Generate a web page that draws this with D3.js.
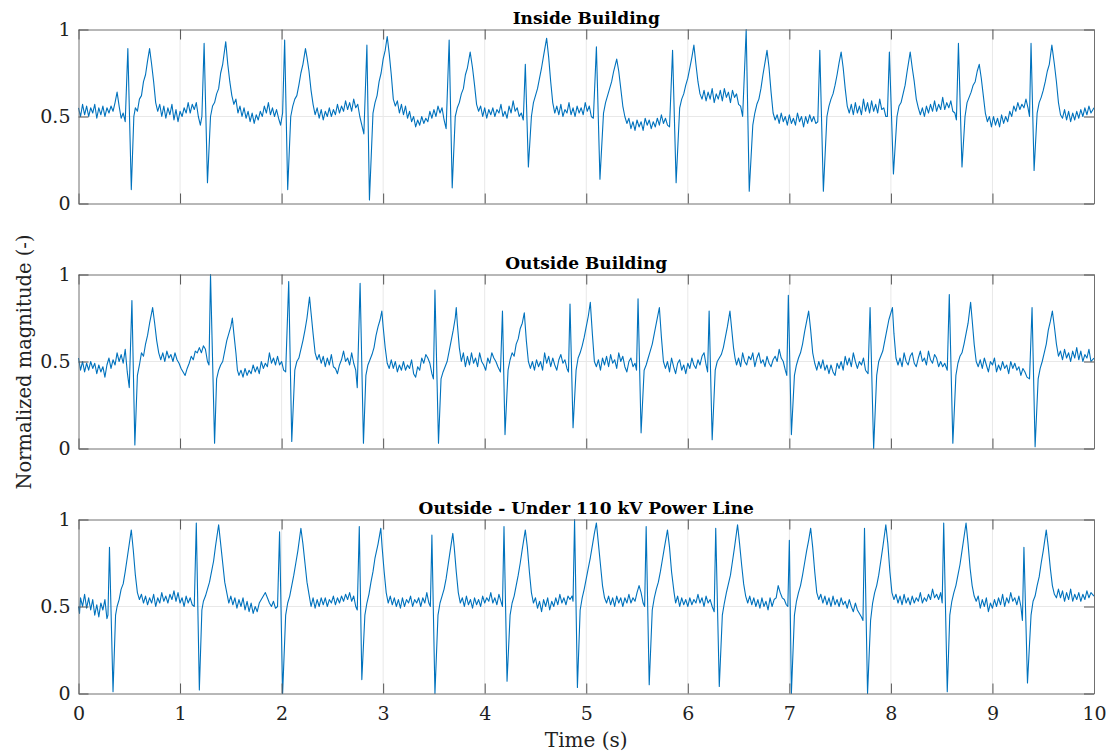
<!DOCTYPE html>
<html>
<head>
<meta charset="utf-8">
<script src="https://cdn.jsdelivr.net/npm/d3@7"></script>
<style>
  body { margin: 0; background: #fff; }
  text { font-family: "DejaVu Serif", serif; }
</style>
</head>
<body>
<svg id="chart" width="1110" height="753"></svg>
<script>
// Panel titles and ticks
const titles = ["Inside Building", "Outside Building", "Outside - Under 110 kV Power Line"];
const timeTicks = [0, 1, 2, 3, 4, 5, 6, 7, 8, 9, 10];
const magTicks = [0, 0.5, 1];

// Signals: [time (s), normalized magnitude]
const inside = [
  [0.00,0.55],[0.02,0.50],[0.04,0.57],[0.06,0.51],[0.08,0.56],[0.10,0.50],[0.12,0.55],[0.14,0.52],[0.16,0.57],[0.18,0.49],[0.20,0.55],[0.22,0.51],[0.24,0.56],[0.26,0.50],[0.28,0.55],[0.30,0.52],[0.32,0.56],[0.34,0.53],[0.36,0.58],[0.38,0.64],[0.40,0.56],[0.42,0.49],[0.44,0.52],[0.46,0.47],
  [0.486,0.89],[0.52,0.08],[0.545,0.50],[0.56,0.55],[0.58,0.53],[0.60,0.60],[0.62,0.62],[0.64,0.70],[0.66,0.74],[0.68,0.82],[0.70,0.89],[0.72,0.80],[0.74,0.70],[0.76,0.58],[0.78,0.53],[0.80,0.57],[0.82,0.50],[0.84,0.56],[0.86,0.49],[0.88,0.55],[0.90,0.51],[0.92,0.57],[0.94,0.48],[0.96,0.54],[0.98,0.47],[1.00,0.53],[1.02,0.50],[1.04,0.55],[1.06,0.52],[1.08,0.58],[1.10,0.52],[1.12,0.57],[1.14,0.54],[1.16,0.58],[1.18,0.50],[1.20,0.45],[1.215,0.50],
  [1.237,0.92],[1.27,0.12],[1.30,0.50],[1.32,0.56],[1.34,0.58],[1.36,0.63],[1.38,0.66],[1.40,0.75],[1.42,0.80],[1.45,0.93],[1.47,0.80],[1.49,0.70],[1.51,0.62],[1.53,0.57],[1.55,0.60],[1.57,0.52],[1.59,0.56],[1.61,0.50],[1.63,0.55],[1.65,0.49],[1.67,0.53],[1.69,0.47],[1.71,0.52],[1.73,0.46],[1.75,0.51],[1.77,0.48],[1.79,0.53],[1.81,0.50],[1.83,0.56],[1.85,0.52],[1.87,0.58],[1.89,0.51],[1.91,0.55],[1.93,0.50],[1.95,0.54],[1.97,0.49],[1.99,0.45],[2.01,0.52],
  [2.03,0.94],[2.06,0.08],[2.09,0.50],[2.11,0.56],[2.13,0.60],[2.15,0.62],[2.17,0.68],[2.19,0.75],[2.21,0.80],[2.235,0.89],[2.25,0.84],[2.27,0.76],[2.29,0.65],[2.31,0.57],[2.33,0.51],[2.35,0.55],[2.37,0.49],[2.39,0.54],[2.41,0.48],[2.43,0.53],[2.45,0.50],[2.47,0.55],[2.49,0.50],[2.51,0.54],[2.53,0.51],[2.55,0.57],[2.57,0.52],[2.59,0.56],[2.61,0.53],[2.63,0.59],[2.65,0.54],[2.67,0.58],[2.69,0.53],[2.71,0.60],[2.73,0.55],[2.75,0.57],[2.77,0.50],[2.79,0.45],[2.81,0.40],
  [2.84,0.91],[2.865,0.02],[2.90,0.52],[2.92,0.58],[2.94,0.62],[2.96,0.70],[2.98,0.75],[3.00,0.83],[3.02,0.88],[3.04,0.96],[3.06,0.86],[3.08,0.74],[3.10,0.60],[3.12,0.56],[3.14,0.59],[3.16,0.52],[3.18,0.57],[3.20,0.51],[3.22,0.56],[3.24,0.49],[3.26,0.53],[3.28,0.47],[3.30,0.50],[3.32,0.44],[3.34,0.48],[3.36,0.45],[3.38,0.50],[3.40,0.46],[3.42,0.49],[3.44,0.47],[3.46,0.53],[3.48,0.49],[3.50,0.54],[3.52,0.50],[3.54,0.56],[3.56,0.52],[3.58,0.55],[3.60,0.48],[3.62,0.43],
  [3.65,0.94],[3.68,0.09],[3.71,0.50],[3.73,0.55],[3.75,0.58],[3.77,0.63],[3.79,0.66],[3.81,0.74],[3.83,0.78],[3.857,0.87],[3.88,0.78],[3.90,0.68],[3.92,0.57],[3.94,0.53],[3.96,0.56],[3.98,0.50],[4.00,0.55],[4.02,0.49],[4.04,0.54],[4.06,0.51],[4.08,0.55],[4.10,0.50],[4.12,0.54],[4.14,0.52],[4.16,0.57],[4.18,0.50],[4.20,0.53],[4.22,0.49],[4.24,0.56],[4.26,0.52],[4.28,0.59],[4.30,0.53],[4.32,0.55],[4.34,0.50],[4.36,0.52],[4.38,0.48],
  [4.40,0.80],[4.43,0.21],[4.46,0.50],[4.48,0.58],[4.50,0.62],[4.52,0.66],[4.54,0.72],[4.56,0.78],[4.58,0.85],[4.61,0.95],[4.63,0.84],[4.65,0.70],[4.67,0.58],[4.69,0.52],[4.71,0.56],[4.73,0.51],[4.75,0.57],[4.77,0.50],[4.79,0.54],[4.81,0.52],[4.83,0.58],[4.85,0.51],[4.87,0.55],[4.89,0.50],[4.91,0.56],[4.93,0.52],[4.95,0.55],[4.97,0.51],[4.99,0.58],[5.01,0.53],[5.03,0.56],[5.05,0.50],[5.07,0.49],
  [5.10,0.90],[5.135,0.14],[5.17,0.52],[5.19,0.58],[5.21,0.62],[5.23,0.66],[5.25,0.70],[5.27,0.76],[5.30,0.83],[5.32,0.76],[5.34,0.66],[5.36,0.56],[5.38,0.50],[5.40,0.46],[5.42,0.49],[5.44,0.43],[5.46,0.47],[5.48,0.42],[5.50,0.48],[5.52,0.44],[5.54,0.47],[5.56,0.42],[5.58,0.49],[5.60,0.45],[5.62,0.48],[5.64,0.43],[5.66,0.47],[5.68,0.44],[5.70,0.49],[5.72,0.45],[5.74,0.51],[5.76,0.46],[5.78,0.49],[5.80,0.45],[5.82,0.44],
  [5.85,0.88],[5.885,0.12],[5.92,0.55],[5.94,0.60],[5.96,0.63],[5.98,0.68],[6.00,0.72],[6.02,0.78],[6.04,0.84],[6.06,0.91],[6.08,0.80],[6.10,0.70],[6.12,0.63],[6.14,0.60],[6.16,0.65],[6.18,0.59],[6.20,0.64],[6.22,0.60],[6.24,0.66],[6.26,0.58],[6.28,0.63],[6.30,0.60],[6.32,0.65],[6.34,0.59],[6.36,0.66],[6.38,0.61],[6.40,0.64],[6.42,0.58],[6.44,0.65],[6.46,0.61],[6.48,0.63],[6.50,0.57],[6.52,0.56],[6.54,0.50],
  [6.575,1.00],[6.605,0.07],[6.64,0.45],[6.66,0.52],[6.68,0.57],[6.70,0.60],[6.72,0.66],[6.74,0.74],[6.76,0.81],[6.78,0.88],[6.80,0.78],[6.82,0.64],[6.84,0.52],[6.86,0.48],[6.88,0.51],[6.90,0.46],[6.92,0.52],[6.94,0.47],[6.96,0.50],[6.98,0.45],[7.00,0.51],[7.02,0.46],[7.04,0.49],[7.06,0.45],[7.08,0.52],[7.10,0.47],[7.12,0.50],[7.14,0.44],[7.16,0.50],[7.18,0.46],[7.20,0.51],[7.22,0.47],[7.24,0.50],[7.26,0.46],[7.28,0.47],
  [7.30,0.88],[7.335,0.07],[7.37,0.50],[7.39,0.56],[7.41,0.60],[7.43,0.63],[7.45,0.68],[7.47,0.74],[7.49,0.81],[7.51,0.87],[7.53,0.78],[7.55,0.66],[7.57,0.56],[7.59,0.52],[7.61,0.57],[7.63,0.51],[7.65,0.58],[7.67,0.52],[7.69,0.56],[7.71,0.51],[7.73,0.60],[7.75,0.53],[7.77,0.58],[7.79,0.52],[7.81,0.59],[7.83,0.53],[7.85,0.57],[7.87,0.52],[7.89,0.60],[7.91,0.54],[7.93,0.55],[7.95,0.50],[7.965,0.50],
  [7.985,0.87],[8.025,0.17],[8.06,0.50],[8.08,0.56],[8.10,0.58],[8.12,0.63],[8.14,0.68],[8.16,0.76],[8.19,0.87],[8.21,0.78],[8.23,0.70],[8.25,0.60],[8.27,0.55],[8.29,0.51],[8.31,0.55],[8.33,0.50],[8.35,0.56],[8.37,0.52],[8.39,0.57],[8.41,0.53],[8.43,0.59],[8.45,0.53],[8.47,0.57],[8.49,0.54],[8.51,0.61],[8.53,0.54],[8.55,0.58],[8.57,0.55],[8.59,0.59],[8.61,0.53],[8.63,0.52],[8.645,0.48],
  [8.665,0.92],[8.70,0.21],[8.73,0.50],[8.75,0.58],[8.77,0.61],[8.79,0.64],[8.81,0.68],[8.83,0.70],[8.85,0.76],[8.87,0.80],[8.89,0.72],[8.91,0.62],[8.93,0.52],[8.95,0.47],[8.97,0.50],[8.99,0.44],[9.01,0.50],[9.03,0.45],[9.05,0.49],[9.07,0.44],[9.09,0.51],[9.11,0.46],[9.13,0.50],[9.15,0.47],[9.17,0.53],[9.19,0.50],[9.21,0.56],[9.23,0.53],[9.25,0.58],[9.27,0.54],[9.29,0.57],[9.31,0.55],[9.33,0.60],[9.35,0.55],[9.365,0.50],
  [9.38,0.92],[9.41,0.19],[9.44,0.52],[9.46,0.58],[9.48,0.61],[9.50,0.65],[9.52,0.70],[9.54,0.76],[9.56,0.80],[9.585,0.91],[9.61,0.80],[9.63,0.70],[9.65,0.58],[9.67,0.51],[9.69,0.49],[9.71,0.54],[9.73,0.48],[9.75,0.53],[9.77,0.47],[9.79,0.52],[9.81,0.48],[9.83,0.53],[9.85,0.49],[9.87,0.54],[9.89,0.50],[9.91,0.55],[9.93,0.51],[9.95,0.56],[9.97,0.52],[10.0,0.55]
];

const outside = [
  [0.00,0.52],[0.02,0.45],[0.04,0.50],[0.06,0.44],[0.08,0.49],[0.10,0.45],[0.12,0.50],[0.14,0.46],[0.16,0.49],[0.18,0.43],[0.20,0.48],[0.22,0.44],[0.24,0.47],[0.26,0.41],[0.28,0.48],[0.30,0.52],[0.32,0.46],[0.34,0.51],[0.36,0.48],[0.38,0.55],[0.40,0.50],[0.42,0.54],[0.44,0.49],[0.46,0.57],[0.48,0.44],[0.50,0.35],
  [0.526,0.85],[0.555,0.02],[0.58,0.42],[0.60,0.48],[0.62,0.55],[0.64,0.53],[0.66,0.60],[0.68,0.65],[0.70,0.72],[0.72,0.78],[0.73,0.81],[0.75,0.72],[0.77,0.62],[0.79,0.55],[0.81,0.51],[0.83,0.55],[0.85,0.50],[0.87,0.56],[0.89,0.52],[0.91,0.54],[0.93,0.50],[0.95,0.55],[0.97,0.51],[0.99,0.49],[1.01,0.46],[1.03,0.44],[1.05,0.42],[1.07,0.46],[1.09,0.49],[1.11,0.53],[1.13,0.51],[1.15,0.56],[1.17,0.55],[1.19,0.58],[1.21,0.55],[1.23,0.59],[1.25,0.57],[1.27,0.50],[1.285,0.48],
  [1.30,1.00],[1.34,0.03],[1.36,0.40],[1.38,0.45],[1.40,0.48],[1.42,0.50],[1.44,0.56],[1.46,0.62],[1.48,0.66],[1.50,0.70],[1.515,0.75],[1.53,0.66],[1.55,0.55],[1.565,0.45],[1.58,0.42],[1.60,0.45],[1.62,0.41],[1.64,0.46],[1.66,0.42],[1.68,0.45],[1.70,0.43],[1.72,0.48],[1.74,0.44],[1.76,0.47],[1.78,0.43],[1.80,0.50],[1.82,0.46],[1.84,0.49],[1.86,0.47],[1.88,0.55],[1.90,0.49],[1.92,0.52],[1.94,0.48],[1.96,0.53],[1.98,0.48],[2.00,0.50],[2.02,0.45],[2.04,0.44],
  [2.07,0.96],[2.10,0.04],[2.13,0.45],[2.15,0.50],[2.17,0.52],[2.19,0.57],[2.21,0.62],[2.23,0.68],[2.25,0.75],[2.275,0.87],[2.29,0.78],[2.31,0.66],[2.33,0.55],[2.35,0.51],[2.37,0.54],[2.39,0.49],[2.41,0.53],[2.43,0.47],[2.45,0.52],[2.47,0.48],[2.49,0.54],[2.51,0.47],[2.53,0.46],[2.55,0.43],[2.57,0.48],[2.59,0.51],[2.61,0.56],[2.63,0.50],[2.65,0.52],[2.67,0.48],[2.69,0.55],[2.71,0.49],[2.73,0.45],[2.745,0.35],
  [2.773,0.95],[2.806,0.03],[2.83,0.42],[2.85,0.48],[2.87,0.51],[2.89,0.54],[2.91,0.58],[2.93,0.65],[2.95,0.70],[2.97,0.74],[2.987,0.79],[3.00,0.70],[3.02,0.58],[3.04,0.49],[3.06,0.46],[3.08,0.51],[3.10,0.46],[3.12,0.50],[3.14,0.44],[3.16,0.48],[3.18,0.45],[3.20,0.50],[3.22,0.45],[3.24,0.48],[3.26,0.46],[3.28,0.51],[3.30,0.43],[3.32,0.41],[3.34,0.47],[3.36,0.45],[3.38,0.52],[3.40,0.49],[3.42,0.54],[3.44,0.52],[3.46,0.49],[3.48,0.43],[3.495,0.40],
  [3.51,0.91],[3.545,0.03],[3.57,0.40],[3.59,0.44],[3.61,0.47],[3.63,0.50],[3.65,0.56],[3.67,0.62],[3.69,0.68],[3.71,0.75],[3.72,0.81],[3.73,0.72],[3.75,0.58],[3.77,0.50],[3.79,0.55],[3.81,0.47],[3.83,0.53],[3.85,0.48],[3.87,0.55],[3.89,0.49],[3.91,0.52],[3.93,0.47],[3.95,0.55],[3.97,0.50],[3.99,0.48],[4.01,0.45],[4.03,0.52],[4.05,0.49],[4.07,0.55],[4.09,0.52],[4.11,0.50],[4.13,0.47],[4.155,0.44],
  [4.175,0.79],[4.20,0.08],[4.23,0.45],[4.25,0.51],[4.27,0.55],[4.29,0.53],[4.31,0.60],[4.33,0.63],[4.35,0.69],[4.37,0.72],[4.39,0.78],[4.41,0.62],[4.43,0.50],[4.45,0.46],[4.47,0.50],[4.49,0.45],[4.51,0.51],[4.53,0.47],[4.55,0.50],[4.57,0.45],[4.59,0.55],[4.61,0.49],[4.63,0.53],[4.65,0.47],[4.67,0.52],[4.69,0.48],[4.71,0.45],[4.73,0.51],[4.75,0.54],[4.77,0.49],[4.79,0.51],[4.81,0.46],[4.825,0.44],
  [4.84,0.83],[4.87,0.12],[4.90,0.45],[4.92,0.52],[4.94,0.55],[4.96,0.59],[4.98,0.64],[5.00,0.70],[5.02,0.76],[5.04,0.84],[5.06,0.66],[5.08,0.50],[5.10,0.47],[5.12,0.51],[5.14,0.45],[5.16,0.52],[5.18,0.48],[5.20,0.53],[5.22,0.47],[5.24,0.54],[5.26,0.49],[5.28,0.51],[5.30,0.46],[5.32,0.55],[5.34,0.50],[5.36,0.53],[5.38,0.47],[5.40,0.44],[5.42,0.50],[5.44,0.52],[5.46,0.47],[5.48,0.49],[5.495,0.45],
  [5.51,0.86],[5.54,0.09],[5.57,0.45],[5.59,0.48],[5.61,0.52],[5.63,0.56],[5.65,0.60],[5.67,0.66],[5.69,0.72],[5.72,0.81],[5.74,0.64],[5.76,0.50],[5.78,0.46],[5.80,0.50],[5.82,0.44],[5.84,0.52],[5.86,0.47],[5.88,0.43],[5.90,0.49],[5.92,0.51],[5.94,0.45],[5.96,0.48],[5.98,0.43],[6.00,0.49],[6.02,0.46],[6.04,0.52],[6.06,0.48],[6.08,0.46],[6.10,0.51],[6.12,0.48],[6.14,0.53],[6.16,0.55],[6.18,0.48],[6.195,0.44],
  [6.21,0.79],[6.24,0.05],[6.27,0.45],[6.29,0.50],[6.31,0.52],[6.33,0.54],[6.35,0.58],[6.37,0.64],[6.39,0.70],[6.415,0.79],[6.43,0.70],[6.45,0.58],[6.465,0.52],[6.48,0.48],[6.50,0.52],[6.52,0.47],[6.54,0.55],[6.56,0.50],[6.58,0.48],[6.60,0.53],[6.62,0.51],[6.64,0.55],[6.66,0.47],[6.68,0.52],[6.70,0.55],[6.72,0.49],[6.74,0.51],[6.76,0.47],[6.78,0.53],[6.80,0.49],[6.82,0.47],[6.84,0.51],[6.86,0.53],[6.88,0.50],[6.90,0.57],[6.92,0.52],[6.94,0.50],[6.96,0.45],[6.975,0.42],
  [6.99,0.88],[7.02,0.08],[7.05,0.42],[7.07,0.48],[7.09,0.52],[7.11,0.55],[7.13,0.60],[7.15,0.67],[7.17,0.73],[7.19,0.79],[7.21,0.68],[7.23,0.55],[7.25,0.49],[7.27,0.45],[7.29,0.50],[7.31,0.46],[7.33,0.51],[7.35,0.45],[7.37,0.48],[7.39,0.43],[7.41,0.48],[7.43,0.44],[7.45,0.42],[7.47,0.49],[7.49,0.46],[7.51,0.50],[7.53,0.45],[7.55,0.53],[7.57,0.48],[7.59,0.52],[7.61,0.47],[7.63,0.55],[7.65,0.50],[7.67,0.46],[7.69,0.50],[7.71,0.48],[7.73,0.52],[7.75,0.45],[7.775,0.43],
  [7.795,0.81],[7.83,0.00],[7.86,0.42],[7.88,0.50],[7.90,0.53],[7.92,0.56],[7.94,0.62],[7.96,0.68],[7.98,0.74],[8.015,0.81],[8.03,0.66],[8.05,0.52],[8.07,0.48],[8.09,0.52],[8.11,0.47],[8.13,0.55],[8.15,0.50],[8.17,0.48],[8.19,0.53],[8.21,0.55],[8.23,0.49],[8.25,0.47],[8.27,0.52],[8.29,0.56],[8.31,0.50],[8.33,0.52],[8.35,0.48],[8.37,0.56],[8.39,0.51],[8.41,0.49],[8.43,0.54],[8.45,0.52],[8.47,0.47],[8.49,0.50],[8.51,0.47],[8.53,0.49],[8.555,0.45],
  [8.575,0.885],[8.61,0.03],[8.64,0.42],[8.66,0.49],[8.68,0.53],[8.70,0.55],[8.72,0.60],[8.74,0.66],[8.76,0.72],[8.785,0.84],[8.80,0.74],[8.82,0.60],[8.84,0.50],[8.86,0.47],[8.88,0.51],[8.90,0.46],[8.92,0.52],[8.94,0.48],[8.96,0.44],[8.98,0.50],[9.00,0.48],[9.02,0.52],[9.04,0.44],[9.06,0.48],[9.08,0.45],[9.10,0.50],[9.12,0.46],[9.14,0.48],[9.16,0.43],[9.18,0.50],[9.20,0.46],[9.22,0.49],[9.24,0.45],[9.26,0.47],[9.28,0.42],[9.30,0.46],[9.32,0.44],[9.34,0.41],[9.365,0.40],
  [9.39,0.81],[9.42,0.01],[9.45,0.40],[9.47,0.46],[9.49,0.50],[9.51,0.55],[9.53,0.60],[9.55,0.68],[9.57,0.73],[9.59,0.79],[9.61,0.70],[9.63,0.60],[9.65,0.53],[9.67,0.56],[9.69,0.51],[9.71,0.57],[9.73,0.52],[9.75,0.55],[9.77,0.50],[9.79,0.56],[9.81,0.52],[9.83,0.58],[9.85,0.51],[9.87,0.56],[9.89,0.50],[9.91,0.54],[9.93,0.52],[9.95,0.57],[9.97,0.50],[10.0,0.52]
];

const powerLine = [
  [0.00,0.50],[0.01,0.46],[0.02,0.55],[0.04,0.50],[0.06,0.57],[0.08,0.49],[0.10,0.55],[0.12,0.48],[0.14,0.54],[0.16,0.45],[0.18,0.51],[0.20,0.44],[0.22,0.52],[0.24,0.48],[0.26,0.54],[0.28,0.43],[0.29,0.45],
  [0.305,0.84],[0.34,0.01],[0.365,0.45],[0.38,0.50],[0.40,0.54],[0.42,0.60],[0.44,0.63],[0.46,0.70],[0.48,0.78],[0.50,0.86],[0.52,0.94],[0.54,0.82],[0.56,0.68],[0.58,0.58],[0.60,0.54],[0.62,0.57],[0.64,0.52],[0.66,0.56],[0.68,0.51],[0.70,0.55],[0.72,0.52],[0.74,0.57],[0.76,0.50],[0.78,0.55],[0.80,0.52],[0.82,0.58],[0.84,0.53],[0.86,0.56],[0.88,0.52],[0.90,0.57],[0.92,0.54],[0.94,0.59],[0.96,0.53],[0.98,0.58],[1.00,0.52],[1.02,0.55],[1.04,0.50],[1.06,0.56],[1.08,0.52],[1.10,0.55],[1.12,0.51],[1.14,0.50],
  [1.16,0.98],[1.19,0.02],[1.215,0.48],[1.23,0.53],[1.25,0.56],[1.27,0.60],[1.29,0.64],[1.31,0.70],[1.33,0.76],[1.35,0.85],[1.38,0.97],[1.40,0.86],[1.42,0.75],[1.44,0.64],[1.46,0.58],[1.48,0.52],[1.50,0.56],[1.52,0.51],[1.54,0.55],[1.56,0.49],[1.58,0.54],[1.60,0.50],[1.62,0.55],[1.64,0.48],[1.66,0.53],[1.68,0.47],[1.70,0.52],[1.72,0.46],[1.74,0.50],[1.76,0.47],[1.78,0.52],[1.80,0.54],[1.82,0.56],[1.84,0.58],[1.86,0.55],[1.88,0.52],[1.90,0.50],[1.92,0.53],[1.94,0.49],[1.96,0.50],
  [1.98,0.93],[2.01,0.00],[2.04,0.45],[2.06,0.52],[2.08,0.56],[2.10,0.62],[2.12,0.68],[2.14,0.75],[2.16,0.82],[2.19,0.95],[2.21,0.86],[2.23,0.75],[2.25,0.64],[2.27,0.57],[2.29,0.50],[2.31,0.55],[2.33,0.49],[2.35,0.54],[2.37,0.50],[2.39,0.55],[2.41,0.51],[2.43,0.55],[2.45,0.50],[2.47,0.54],[2.49,0.52],[2.51,0.56],[2.53,0.51],[2.55,0.55],[2.57,0.52],[2.59,0.56],[2.61,0.53],[2.63,0.57],[2.65,0.54],[2.67,0.58],[2.69,0.53],[2.71,0.56],[2.73,0.50],[2.745,0.48],
  [2.765,0.96],[2.79,0.08],[2.82,0.45],[2.84,0.52],[2.86,0.57],[2.88,0.64],[2.90,0.70],[2.92,0.78],[2.95,0.86],[2.977,0.95],[2.99,0.84],[3.01,0.70],[3.03,0.58],[3.05,0.52],[3.07,0.56],[3.09,0.51],[3.11,0.55],[3.13,0.50],[3.15,0.54],[3.17,0.49],[3.19,0.55],[3.21,0.50],[3.23,0.54],[3.25,0.52],[3.27,0.56],[3.29,0.50],[3.31,0.54],[3.33,0.52],[3.35,0.55],[3.37,0.50],[3.39,0.55],[3.41,0.52],[3.43,0.58],[3.45,0.52],[3.465,0.50],
  [3.48,0.91],[3.51,0.00],[3.54,0.45],[3.56,0.52],[3.58,0.56],[3.60,0.60],[3.62,0.66],[3.64,0.74],[3.66,0.82],[3.686,0.92],[3.70,0.84],[3.72,0.70],[3.74,0.58],[3.76,0.52],[3.78,0.55],[3.80,0.50],[3.82,0.56],[3.84,0.51],[3.86,0.54],[3.88,0.49],[3.90,0.55],[3.92,0.51],[3.94,0.54],[3.96,0.50],[3.98,0.56],[4.00,0.52],[4.02,0.55],[4.04,0.53],[4.06,0.58],[4.08,0.52],[4.10,0.55],[4.12,0.51],[4.14,0.57],[4.16,0.53],[4.175,0.50],
  [4.19,0.96],[4.22,0.07],[4.25,0.45],[4.27,0.52],[4.29,0.56],[4.31,0.62],[4.33,0.68],[4.35,0.75],[4.37,0.83],[4.40,0.94],[4.42,0.84],[4.44,0.70],[4.46,0.58],[4.48,0.52],[4.50,0.55],[4.52,0.49],[4.54,0.53],[4.56,0.47],[4.58,0.54],[4.60,0.50],[4.62,0.55],[4.64,0.48],[4.66,0.53],[4.68,0.50],[4.70,0.55],[4.72,0.51],[4.74,0.57],[4.76,0.52],[4.78,0.55],[4.80,0.51],[4.82,0.56],[4.84,0.54],[4.86,0.56],[4.87,0.53],
  [4.885,1.00],[4.913,0.035],[4.94,0.48],[4.96,0.55],[4.98,0.60],[5.00,0.66],[5.02,0.72],[5.04,0.78],[5.06,0.85],[5.08,0.92],[5.10,0.98],[5.12,0.86],[5.14,0.74],[5.16,0.62],[5.18,0.55],[5.20,0.52],[5.22,0.56],[5.24,0.51],[5.26,0.55],[5.28,0.50],[5.30,0.56],[5.32,0.52],[5.34,0.55],[5.36,0.50],[5.38,0.55],[5.40,0.52],[5.42,0.57],[5.44,0.52],[5.46,0.55],[5.48,0.53],[5.50,0.58],[5.52,0.62],[5.54,0.58],[5.56,0.52],[5.575,0.50],
  [5.59,0.96],[5.62,0.05],[5.65,0.48],[5.67,0.55],[5.69,0.60],[5.71,0.64],[5.73,0.70],[5.75,0.77],[5.77,0.84],[5.80,0.94],[5.82,0.84],[5.84,0.70],[5.865,0.58],[5.88,0.52],[5.90,0.56],[5.92,0.50],[5.94,0.55],[5.96,0.51],[5.98,0.54],[6.00,0.50],[6.02,0.55],[6.04,0.51],[6.06,0.54],[6.08,0.52],[6.10,0.57],[6.12,0.52],[6.14,0.55],[6.16,0.50],[6.18,0.56],[6.20,0.52],[6.22,0.54],[6.24,0.50],[6.26,0.47],
  [6.275,0.95],[6.31,0.04],[6.34,0.45],[6.36,0.52],[6.38,0.58],[6.40,0.63],[6.42,0.68],[6.44,0.76],[6.46,0.84],[6.49,0.97],[6.51,0.86],[6.53,0.74],[6.55,0.63],[6.57,0.56],[6.59,0.52],[6.61,0.56],[6.63,0.51],[6.65,0.55],[6.67,0.50],[6.69,0.54],[6.71,0.49],[6.73,0.55],[6.75,0.50],[6.77,0.53],[6.79,0.48],[6.81,0.55],[6.83,0.50],[6.85,0.54],[6.87,0.55],[6.89,0.62],[6.91,0.58],[6.93,0.55],[6.95,0.54],[6.97,0.51],[6.985,0.50],
  [7.00,0.88],[7.02,0.00],[7.05,0.45],[7.07,0.53],[7.09,0.58],[7.11,0.62],[7.13,0.68],[7.15,0.75],[7.17,0.82],[7.19,0.88],[7.21,0.95],[7.23,0.84],[7.25,0.70],[7.27,0.58],[7.29,0.54],[7.31,0.57],[7.33,0.52],[7.35,0.56],[7.37,0.51],[7.39,0.55],[7.41,0.50],[7.43,0.56],[7.45,0.51],[7.47,0.54],[7.49,0.50],[7.51,0.55],[7.53,0.51],[7.55,0.53],[7.57,0.49],[7.59,0.54],[7.61,0.50],[7.63,0.47],[7.65,0.52],[7.67,0.48],[7.69,0.46],[7.71,0.44],[7.725,0.42],
  [7.74,0.95],[7.77,0.00],[7.80,0.42],[7.82,0.52],[7.84,0.58],[7.86,0.62],[7.88,0.68],[7.90,0.76],[7.92,0.84],[7.95,0.97],[7.97,0.86],[7.99,0.70],[8.01,0.58],[8.03,0.54],[8.05,0.57],[8.07,0.52],[8.09,0.56],[8.11,0.51],[8.13,0.57],[8.15,0.52],[8.17,0.55],[8.19,0.51],[8.21,0.56],[8.23,0.52],[8.25,0.55],[8.27,0.53],[8.29,0.58],[8.31,0.52],[8.33,0.55],[8.35,0.53],[8.37,0.57],[8.39,0.54],[8.41,0.60],[8.43,0.55],[8.45,0.57],[8.47,0.54],[8.49,0.58],[8.505,0.52],
  [8.52,0.98],[8.555,0.01],[8.58,0.45],[8.60,0.53],[8.62,0.58],[8.64,0.62],[8.66,0.68],[8.68,0.74],[8.70,0.82],[8.74,0.98],[8.76,0.86],[8.78,0.72],[8.80,0.62],[8.82,0.56],[8.84,0.53],[8.86,0.56],[8.88,0.49],[8.90,0.54],[8.92,0.50],[8.94,0.55],[8.96,0.47],[8.98,0.52],[9.00,0.49],[9.02,0.54],[9.04,0.50],[9.06,0.55],[9.08,0.51],[9.10,0.57],[9.12,0.50],[9.14,0.55],[9.16,0.52],[9.18,0.58],[9.20,0.53],[9.22,0.55],[9.24,0.51],[9.26,0.56],[9.28,0.50],[9.295,0.42],
  [9.31,0.84],[9.345,0.06],[9.38,0.45],[9.40,0.53],[9.42,0.56],[9.44,0.62],[9.46,0.67],[9.48,0.75],[9.50,0.82],[9.53,0.94],[9.55,0.84],[9.57,0.72],[9.59,0.62],[9.61,0.57],[9.63,0.55],[9.65,0.60],[9.67,0.55],[9.69,0.59],[9.71,0.53],[9.73,0.58],[9.75,0.54],[9.77,0.60],[9.79,0.53],[9.81,0.57],[9.83,0.54],[9.85,0.58],[9.87,0.53],[9.89,0.57],[9.91,0.54],[9.93,0.59],[9.95,0.55],[9.97,0.58],[10.0,0.56]
];

const signals = [inside, outside, powerLine];

// Layout
const svg = d3.select("#chart");
const left = 78.5, right = 1094;
const panelTop = [29.5, 274.5, 519.5];
const panelH = 174;
const boxColor = "#707070";

const x = d3.scaleLinear().domain([0, 10]).range([left, right]);

signals.forEach((data, i) => {
    const top = panelTop[i], bottom = top + panelH;
    const y = d3.scaleLinear().domain([0, 1]).range([bottom, top]);
    const g = svg.append("g");

    // Grid
    g.selectAll(".vgrid").data(timeTicks.slice(1, -1)).join("line")
        .attr("x1", d => x(d)).attr("x2", d => x(d))
        .attr("y1", top).attr("y2", bottom)
        .attr("stroke", "#e8e8e8").attr("stroke-width", 1);
    g.append("line")
        .attr("x1", left).attr("x2", right)
        .attr("y1", y(0.5)).attr("y2", y(0.5))
        .attr("stroke", "#e8e8e8").attr("stroke-width", 1);

    // Signal
    g.append("path")
        .datum(data)
        .attr("d", d3.line().x(d => x(d[0])).y(d => y(d[1])))
        .attr("fill", "none")
        .attr("stroke", "#0072BD")
        .attr("stroke-width", 1.1)
        .attr("stroke-linejoin", "round");

    // Axes (ticks pointing inward, like MATLAB)
    const bottomAxis = d3.axisBottom(x).tickValues(timeTicks).tickSizeInner(-10).tickSizeOuter(0).tickPadding(13);
    if (i < 2) bottomAxis.tickFormat("");
    const gb = g.append("g").attr("transform", `translate(0,${bottom})`).call(bottomAxis);

    const gt = g.append("g").attr("transform", `translate(0,${top})`)
        .call(d3.axisTop(x).tickValues(timeTicks).tickSizeInner(-10).tickSizeOuter(0).tickFormat(""));

    const gl = g.append("g").attr("transform", `translate(${left},0)`)
        .call(d3.axisLeft(y).tickValues(magTicks).tickSizeInner(-10).tickSizeOuter(0).tickPadding(8).tickFormat(d3.format("")));

    const gr = g.append("g").attr("transform", `translate(${right},0)`)
        .call(d3.axisRight(y).tickValues(magTicks).tickSizeInner(-10).tickSizeOuter(0).tickFormat(""));

    [gb, gt, gl, gr].forEach(a => {
        a.select(".domain").attr("stroke", boxColor);
        a.selectAll(".tick line").attr("stroke", "#555");
        a.selectAll(".tick text")
            .attr("fill", "#222")
            .style("font-family", "'DejaVu Serif', serif")
            .style("font-size", "19px");
    });

    // Title
    g.append("text")
        .attr("x", (left + right) / 2)
        .attr("y", top - 6)
        .attr("text-anchor", "middle")
        .style("font-size", "17px")
        .style("font-weight", "bold")
        .attr("fill", "#000")
        .text(titles[i]);
});

// Axis labels
svg.append("text")
    .attr("x", (left + right) / 2)
    .attr("y", 747)
    .attr("text-anchor", "middle")
    .style("font-size", "20px")
    .attr("fill", "#222")
    .text("Time (s)");

svg.append("text")
    .attr("transform", `translate(31,362) rotate(-90)`)
    .attr("text-anchor", "middle")
    .style("font-size", "19.5px")
    .attr("fill", "#222")
    .text("Normalized magnitude (-)");
</script>
</body>
</html>
